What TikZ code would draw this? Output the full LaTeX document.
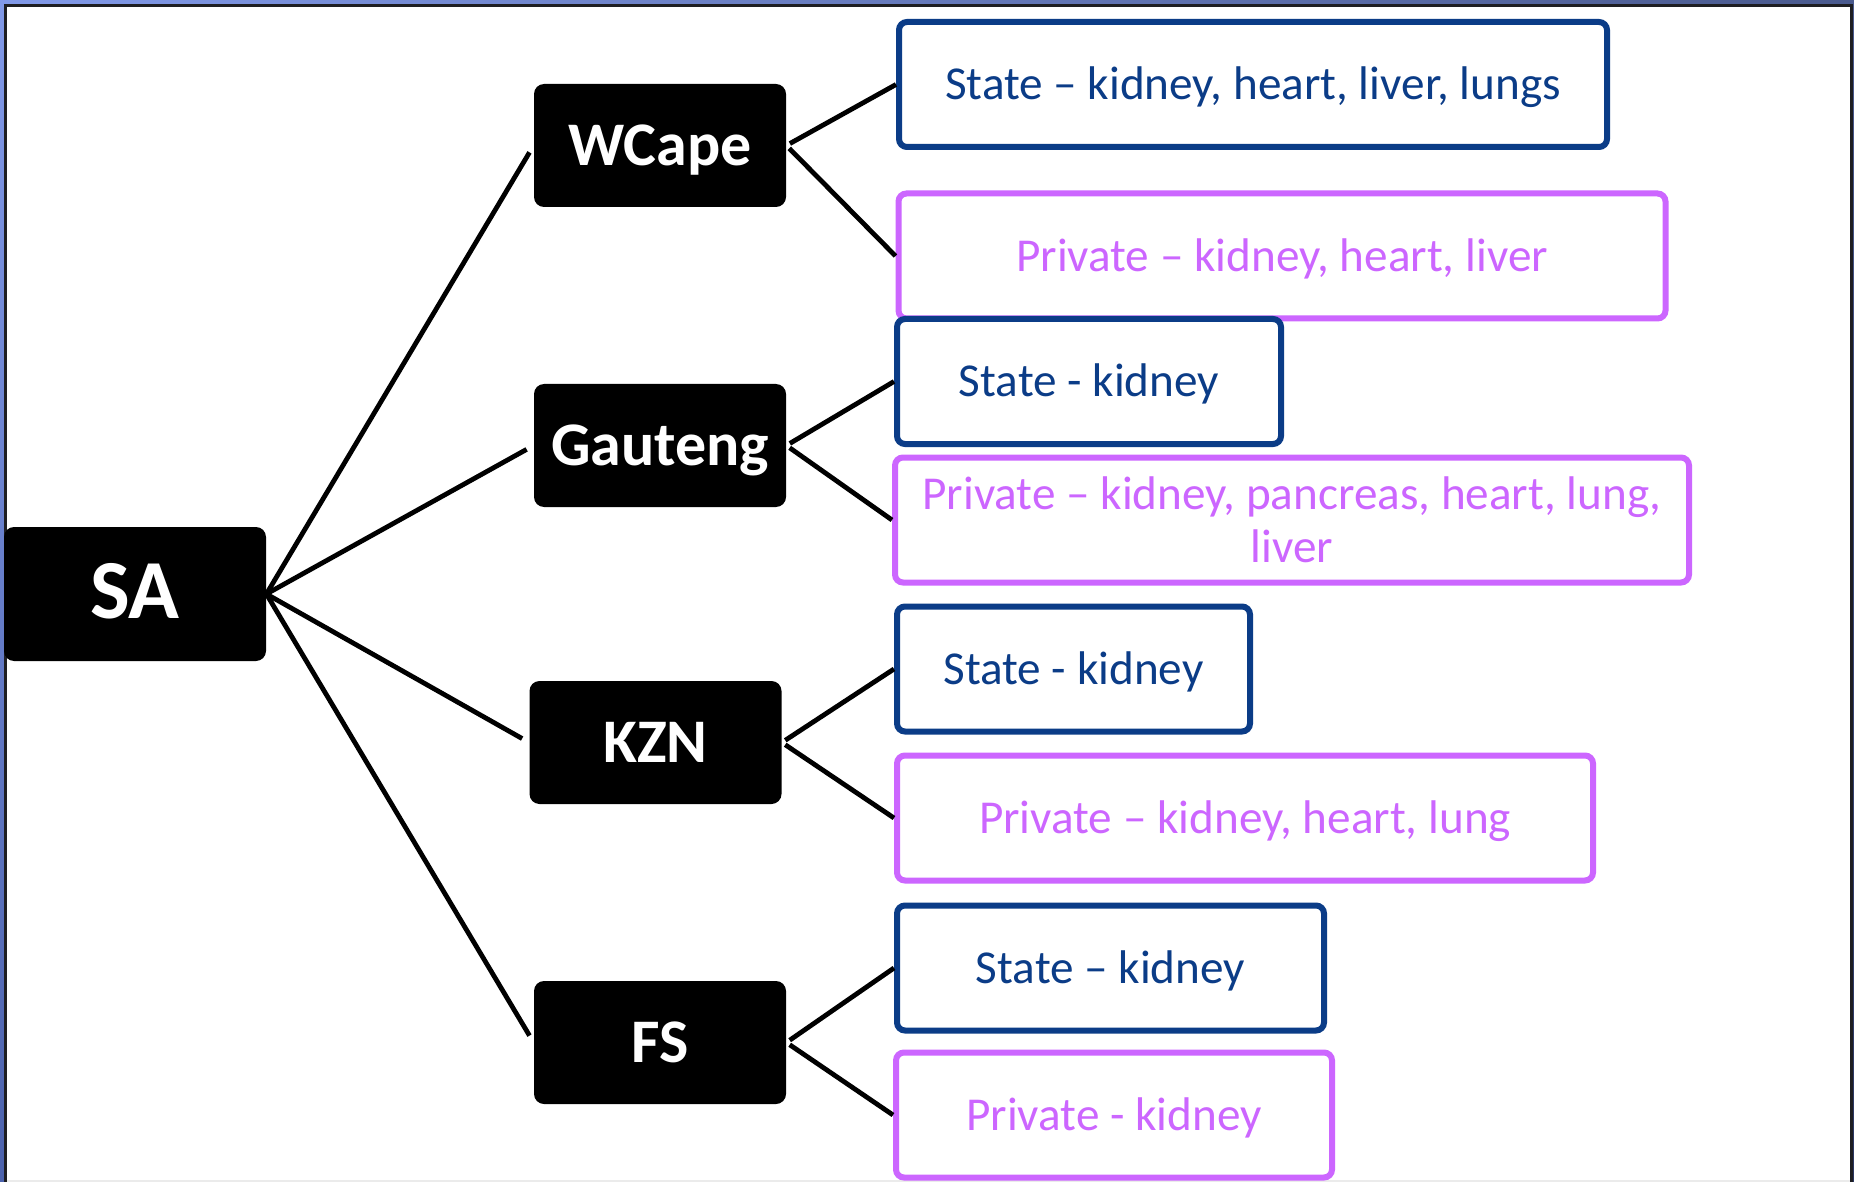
\documentclass[tikz,border=0pt]{standalone}
\usepackage{fontspec}
\setmainfont{Carlito}
\usetikzlibrary{shadings}
\definecolor{statecol}{HTML}{0B3C87}
\definecolor{privcol}{HTML}{CC66FF}
\definecolor{bandTL}{HTML}{8199E8}
\definecolor{bandTR}{HTML}{4A5A8E}
\definecolor{bandBL}{HTML}{4C62AC}
\definecolor{bandBR}{HTML}{2A3560}
\definecolor{edgedark}{HTML}{1E1E22}
\begin{document}
\begin{tikzpicture}[x=0.5pt,y=-0.5pt,
  hub/.style={fill=black, text=white, rounded corners=5pt, inner sep=0pt,
    font=\bfseries\fontsize{31}{36}\selectfont,
    text height=24pt, text depth=4pt,
    minimum width=126pt, minimum height=61.5pt},
  root/.style={hub, font=\bfseries\fontsize{42}{48}\selectfont,
    text height=30pt, text depth=6pt,
    minimum width=131pt, minimum height=67pt},
  leaf/.style={draw, fill=white, line width=3pt, rounded corners=4pt,
    inner sep=0pt, minimum height=62.5pt, align=center,
    font=\fontsize{23.6}{26.6}\selectfont},
  oneline/.style={text height=20pt, text depth=4.8pt},
  statebox/.style={leaf, oneline, draw=statecol, text=statecol},
  privbox/.style={leaf, oneline, draw=privcol, text=privcol},
  privtwo/.style={leaf, draw=privcol, text=privcol},
  link/.style={draw=black, line width=2.4pt}
]
\useasboundingbox (0,0) rectangle (1854,1182);

% window frame around the slide
\shade[upper left=bandTL, upper right=bandTR, lower left=bandBL, lower right=bandBR]
  (0,0) rectangle (1854,1182);
\fill[edgedark] (4,4) rectangle (1853,1182);
\fill[white] (7,7) rectangle (1850,1180);
\fill[black!8] (7,1180) rectangle (1850,1182);

% root and provinces
\node[root] (sa) at (135,594) {SA};
\node[hub] (wc) at (660,145.5) {WCape};
\node[hub] (gp) at (660,445.5) {Gauteng};
\node[hub] (kzn) at (655.5,742.5) {KZN};
\node[hub] (fs) at (660,1042.5) {FS};

% transplant services per province
\node[statebox, minimum width=354pt]   (wcS) at (1253,84.5) {State -- kidney, heart, liver, lungs};
\node[privbox,  minimum width=383.5pt] (wcP) at (1282,256) {Private -- kidney, heart, liver};
\node[statebox, minimum width=192pt]   (gpS) at (1089,381.5) {State - kidney};
\node[privtwo,  minimum width=397pt]   (gpP) at (1292,520) {Private -- kidney, pancreas, heart, lung,\\liver};
\node[statebox, minimum width=176.5pt] (kznS) at (1073.5,669) {State - kidney};
\node[privbox,  minimum width=348pt]   (kznP) at (1245,818) {Private -- kidney, heart, lung};
\node[statebox, minimum width=213.5pt] (fsS) at (1110.5,968) {State -- kidney};
\node[privbox,  minimum width=218pt]   (fsP) at (1114,1115) {Private - kidney};

% connectors
\foreach \p in {wc,gp,kzn,fs}
  \draw[link, shorten >=4pt] (sa.east) -- (\p.west);
\foreach \p/\s/\q in {wc/wcS/wcP, gp/gpS/gpP, kzn/kznS/kznP, fs/fsS/fsP}{
  \draw[link, shorten <=2pt] (\p.east) -- (\s.west);
  \draw[link, shorten <=2pt] (\p.east) -- (\q.west);
}
\end{tikzpicture}
\end{document}
